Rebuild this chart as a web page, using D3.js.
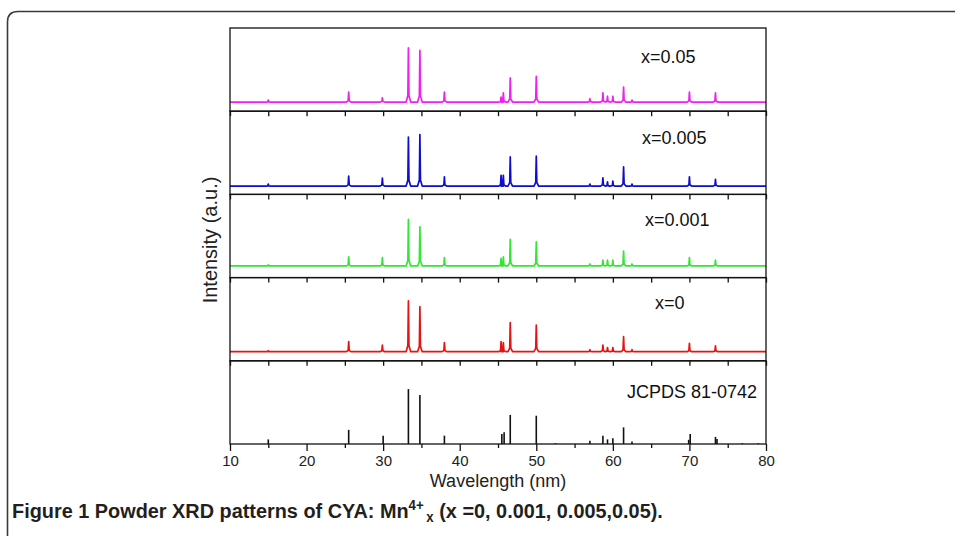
<!DOCTYPE html>
<html>
<head>
<meta charset="utf-8">
<script src="https://cdn.jsdelivr.net/npm/d3@7"></script>
<style>
  body { margin: 0; background: #fff; }
  svg { display: block; }
</style>
</head>
<body>
<svg id="chart" width="955" height="536"></svg>
<script>
// ---- data ----------------------------------------------------------------
// 2-theta axis ticks
const xMajorTicks = [10, 20, 30, 40, 50, 60, 70, 80];
const xMinorTicks = [15, 25, 35, 45, 55, 65, 75];

// panel order, top to bottom
const panelNames = ["x=0.05", "x=0.005", "x=0.001", "x=0", "JCPDS 81-0742"];

// reflection positions observed in the measured patterns
const measuredPositions = [15.0, 25.5, 29.9, 33.3, 34.8, 38.0, 45.4, 45.7, 46.6, 50.0,
                           57.0, 58.7, 59.3, 60.0, 61.4, 62.5, 70.0, 73.4];

// peak heights above background (a.u.) for each sample
const heights005  = [2.4, 12, 5, 65, 62, 12, 6, 11, 29, 31, 4, 11, 7, 7, 18, 2.4, 12, 11];
const heights0005 = [2.4, 12, 9.6, 59, 62, 11, 13, 13, 35, 36, 2.4, 10, 5, 6, 23, 2.4, 11, 8];
const heights0001 = [1.2, 11, 10, 56, 47, 10, 9, 11, 32, 29, 2.4, 7, 7, 7, 18, 2.4, 10, 7];
const heights0    = [1.2, 12, 8, 61, 54, 11, 12, 11, 35, 32, 2.4, 8, 5, 5, 18, 2.4, 10, 7];

// background level of each measured pattern (a.u.)
const backgrounds = [11, 10, 14, 11];

// standard card JCPDS 81-0742: line positions and relative intensities
const cardPositions = [15.0, 25.5, 30.0, 33.3, 34.8, 38.0, 45.5, 45.8, 46.6, 50.0, 52.5,
                       57.0, 58.7, 59.3, 60.0, 61.4, 62.5, 69.9, 70.1, 73.4, 73.6, 76.9, 79.0];
const cardIntensities = [5.5, 17, 10, 66, 59, 10, 12, 14, 35, 34, 1,
                         4, 10, 5.5, 7, 20, 3, 5, 12, 8.5, 6, 1, 1];

// ---- layout / style -------------------------------------------------------
const W = 955, H = 536;
const plot = { left: 230, right: 766, top: 28, bottom: 444 };
const lineColors = ["#f21ef2", "#0d0dd0", "#2fe82f", "#e81212"];
const labelX = [641, 642, 645, 655, 627];
const labelDy = [35, 33, 32, 31, 37];

const svg = d3.select("#chart");

// outer rounded frame (continues past the right and bottom edges)
svg.append("path")
  .attr("d", `M7.5,${H + 10} L7.5,22 Q7.5,11.5 18,11.5 L${W + 10},11.5`)
  .attr("fill", "none").attr("stroke", "#3a3a3a").attr("stroke-width", 1.6);

const x = d3.scaleLinear().domain([10, 80]).range([plot.left, plot.right]);
const band = d3.scaleBand().domain(panelNames).range([plot.top, plot.bottom]).padding(0);

function yFor(name) {
  return d3.scaleLinear().domain([0, 100])
    .range([band(name) + band.bandwidth(), band(name)]);
}

// spike profile for one reflection
function peakPoints(p, h, base) {
  return [[p - 0.3, base], [p - 0.07, base + h * 0.12], [p, base + h],
          [p + 0.07, base + h * 0.12], [p + 0.3, base]];
}

const heightSets = [heights005, heights0005, heights0001, heights0];
const line = d3.line();

heightSets.forEach((hs, i) => {
  const name = panelNames[i];
  const y = yFor(name);
  const base = backgrounds[i];
  let pts = [[10, base]];
  measuredPositions.forEach((p, k) => { pts = pts.concat(peakPoints(p, hs[k], base)); });
  pts.push([80, base]);
  svg.append("path")
    .attr("d", line(pts.map(d => [x(d[0]), y(d[1])])))
    .attr("fill", "none")
    .attr("stroke", lineColors[i])
    .attr("stroke-width", 1.7)
    .attr("stroke-linejoin", "round");
});

// reference card as vertical lines
{
  const name = panelNames[4];
  const y = yFor(name);
  svg.append("g").selectAll("line")
    .data(cardPositions.map((p, k) => [p, cardIntensities[k]]))
    .join("line")
    .attr("x1", d => x(d[0])).attr("x2", d => x(d[0]))
    .attr("y1", y(0)).attr("y2", d => y(d[1]))
    .attr("stroke", "#111").attr("stroke-width", 1.6);
}

// panel frames
panelNames.forEach(name => {
  svg.append("rect")
    .attr("x", plot.left).attr("y", band(name))
    .attr("width", plot.right - plot.left).attr("height", band.bandwidth())
    .attr("fill", "none").attr("stroke", "#111").attr("stroke-width", 1.3);
});

// inward ticks on each panel divider
panelNames.slice(1).forEach(name => {
  const g = svg.append("g").attr("transform", `translate(0,${band(name)})`)
    .call(d3.axisBottom(x).tickValues(xMajorTicks.concat(xMinorTicks))
      .tickSize(5).tickFormat(""));
  g.select(".domain").remove();
  g.selectAll("line").attr("stroke", "#111").attr("stroke-width", 1.3);
});

// bottom axis
{
  const gMinor = svg.append("g").attr("transform", `translate(0,${plot.bottom})`)
    .call(d3.axisBottom(x).tickValues(xMinorTicks).tickSize(4).tickFormat(""));
  gMinor.select(".domain").remove();
  gMinor.selectAll("line").attr("stroke", "#111").attr("stroke-width", 1.3);

  const gMajor = svg.append("g").attr("transform", `translate(0,${plot.bottom})`)
    .call(d3.axisBottom(x).tickValues(xMajorTicks).tickSize(7).tickPadding(4).tickFormat(d3.format("d")));
  gMajor.select(".domain").remove();
  gMajor.selectAll("line").attr("stroke", "#111").attr("stroke-width", 1.3);
  gMajor.selectAll("text")
    .attr("font-family", "'Liberation Sans', Arial, sans-serif")
    .attr("font-size", 15).attr("fill", "#222");
}

// sample labels
panelNames.forEach((name, i) => {
  svg.append("text")
    .attr("x", labelX[i]).attr("y", band(name) + labelDy[i])
    .attr("font-family", "'Liberation Sans', Arial, sans-serif")
    .attr("font-size", 18).attr("fill", "#111")
    .text(name);
});

// axis titles
svg.append("text")
  .attr("x", (plot.left + plot.right) / 2).attr("y", 487)
  .attr("text-anchor", "middle")
  .attr("font-family", "'Liberation Sans', Arial, sans-serif")
  .attr("font-size", 18).attr("fill", "#222")
  .text("Wavelength (nm)");

svg.append("text")
  .attr("transform", "translate(217,240) rotate(-90)")
  .attr("text-anchor", "middle")
  .attr("font-family", "'Liberation Sans', Arial, sans-serif")
  .attr("font-size", 20).attr("fill", "#222")
  .text("Intensity (a.u.)");

// caption
{
  const cap = svg.append("g");
  const t = cap.append("text")
    .attr("x", 0).attr("y", 0)
    .attr("font-family", "'Liberation Sans Narrow', 'Liberation Sans', Arial, sans-serif")
    .attr("font-weight", "bold").attr("font-size", 21).attr("fill", "#231f20");
  t.append("tspan").text("Figure 1 ");
  t.append("tspan").text("Powder XRD patterns of CYA: Mn");
  t.append("tspan").attr("font-size", 14).attr("dy", -8).text("4+");
  t.append("tspan").attr("font-size", 14).attr("dy", 12).text("\u2009x");
  t.append("tspan").attr("dy", -4).text(" (x =0, 0.001, 0.005,0.05).");
  const w = t.node().getBBox().width;
  const sx = 651 / w;
  cap.attr("transform", `translate(12,518) scale(${sx},1)`);
}
</script>
</body>
</html>
